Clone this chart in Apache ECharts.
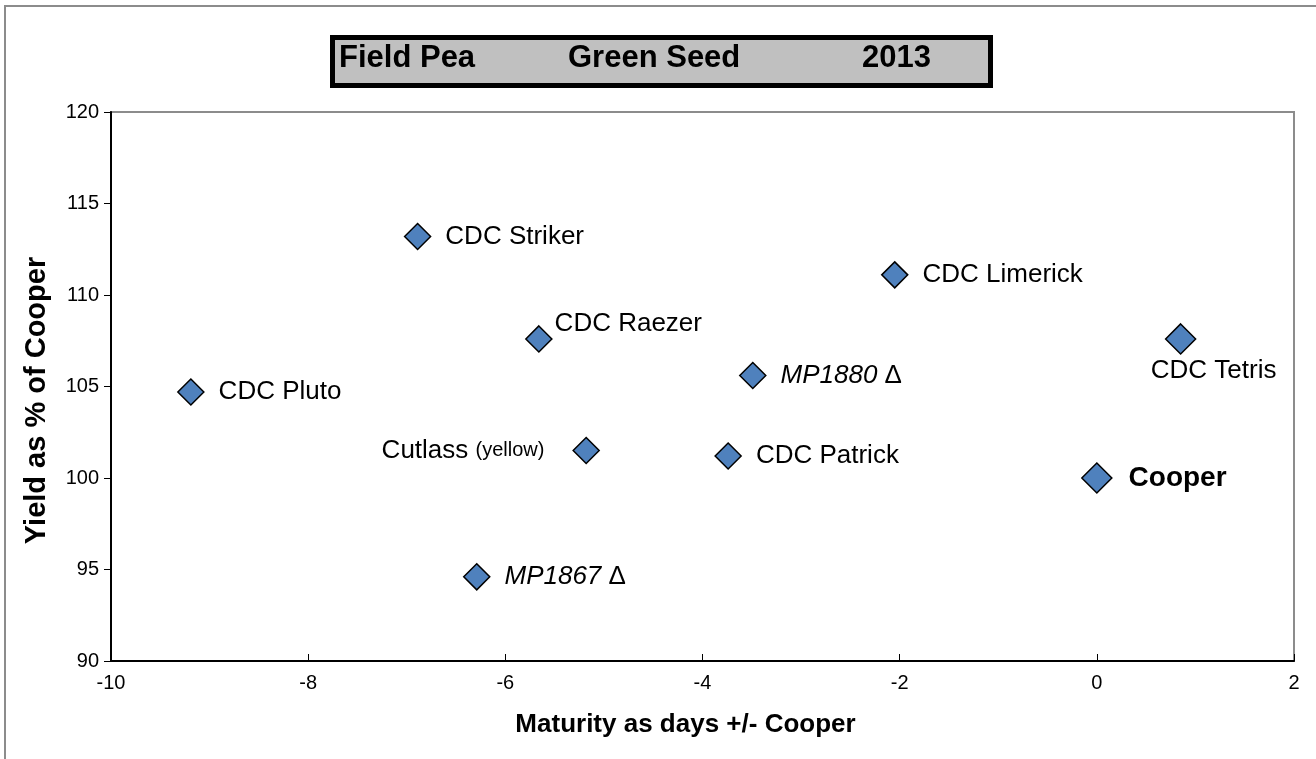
<!DOCTYPE html>
<html>
<head>
<meta charset="utf-8">
<title>Field Pea Green Seed 2013</title>
<script src="https://cdn.jsdelivr.net/npm/echarts@6/dist/echarts.min.js"></script>
<style>
  html, body { margin: 0; padding: 0; background: #fff; }
  #chart { width: 1316px; height: 759px; }
</style>
</head>
<body>
<div id="chart"></div>
<script>
// variety data
const varieties = ['CDC Striker', 'CDC Limerick', 'CDC Raezer', 'CDC Tetris', 'CDC Pluto', 'MP1880', 'Cutlass', 'CDC Patrick', 'Cooper', 'MP1867']
const maturity = [-6.89, -2.05, -5.66, 0.85, -9.19, -3.49, -5.18, -3.74, 0, -6.29]
const yieldPct = [113.2, 111.1, 107.6, 107.6, 104.7, 105.6, 101.5, 101.2, 100, 94.6]
const xTicks = [-10, -8, -6, -4, -2, 0, 2]
const yTicks = [90, 95, 100, 105, 110, 115, 120]

const font = "'Liberation Sans', Arial, sans-serif"

// label placement per variety
const labelFor = (name) => {
  const base = {
    show: true, formatter: '{b}', color: '#000',
    fontFamily: font, fontSize: 26, position: 'right', distance: 14,
  }
  if (name === 'CDC Tetris') return { ...base, position: 'bottom', distance: 3, offset: [33, 0] }
  if (name === 'CDC Raezer') return { ...base, distance: 2, offset: [0, -15] }
  if (name === 'Cooper') return { ...base, fontWeight: 'bold', fontSize: 28, distance: 16 }
  if (name === 'Cutlass') {
    return {
      ...base, position: 'left', distance: 28,
      formatter: '{a|Cutlass} {b|(yellow)}',
      rich: { a: { fontSize: 26, fontFamily: font }, b: { fontSize: 20, fontFamily: font } },
    }
  }
  if (name.startsWith('MP')) {
    return {
      ...base,
      formatter: `{i|${name}} {d|\u0394}`,
      rich: { i: { fontSize: 26, fontStyle: 'italic', fontFamily: font }, d: { fontSize: 26, fontFamily: font } },
    }
  }
  return base
}

const points = varieties.map((name, i) => ({
  name,
  value: [maturity[i], yieldPct[i]],
  symbolSize: name === 'Cooper' || name === 'CDC Tetris' ? 30 : 26,
  label: labelFor(name),
}))

const chart = echarts.init(document.getElementById('chart'))

const titleFont = `bold 31px ${font}`

chart.setOption({
  animation: false,
  grid: {
    left: 111, right: 22, top: 112, bottom: 98,
    show: true, borderColor: '#8c8c8c', borderWidth: 2,
  },
  graphic: [
    {
      type: 'rect', left: 4, top: 5, z: -10,
      shape: { width: 1330, height: 770 },
      style: { fill: '#fff', stroke: '#8c8c8c', lineWidth: 2 },
    },
    {
      type: 'rect', left: 330, top: 35,
      shape: { width: 658, height: 48 },
      style: { fill: '#c0c0c0', stroke: '#000', lineWidth: 5 },
    },
    { type: 'text', left: 339, top: 43, style: { text: 'Field Pea', font: titleFont, fill: '#000' } },
    { type: 'text', left: 568, top: 43, style: { text: 'Green Seed', font: titleFont, fill: '#000' } },
    { type: 'text', left: 862, top: 43, style: { text: '2013', font: titleFont, fill: '#000' } },
  ],
  xAxis: {
    type: 'value', min: xTicks[0], max: xTicks[xTicks.length - 1], interval: 2,
    name: 'Maturity as days +/- Cooper', nameLocation: 'middle', nameGap: 51,
    nameTextStyle: { fontFamily: font, fontSize: 26, fontWeight: 'bold', color: '#000', padding: [0, 34, 0, 0] },
    axisLine: { show: true, onZero: false, lineStyle: { color: '#000', width: 2 } },
    axisTick: { show: true, inside: true, length: 7, lineStyle: { color: '#000' } },
    axisLabel: { fontFamily: font, fontSize: 20, color: '#000', margin: 12 },
    splitLine: { show: false },
  },
  yAxis: {
    type: 'value', min: yTicks[0], max: yTicks[yTicks.length - 1], interval: 5,
    name: 'Yield as % of Cooper', nameLocation: 'middle', nameGap: 60,
    nameTextStyle: { fontFamily: font, fontSize: 29, fontWeight: 'bold', color: '#000', padding: [0, 28, 0, 0] },
    axisLine: { show: true, onZero: false, lineStyle: { color: '#000', width: 2 } },
    axisTick: { show: true, length: 7, lineStyle: { color: '#000' } },
    axisLabel: { fontFamily: font, fontSize: 20, color: '#000', margin: 12 },
    splitLine: { show: false },
  },
  series: [{
    type: 'scatter',
    symbol: 'diamond',
    itemStyle: { color: '#4f81bd', borderColor: '#000', borderWidth: 1.5, opacity: 1 },
    data: points,
  }],
})
</script>
</body>
</html>
